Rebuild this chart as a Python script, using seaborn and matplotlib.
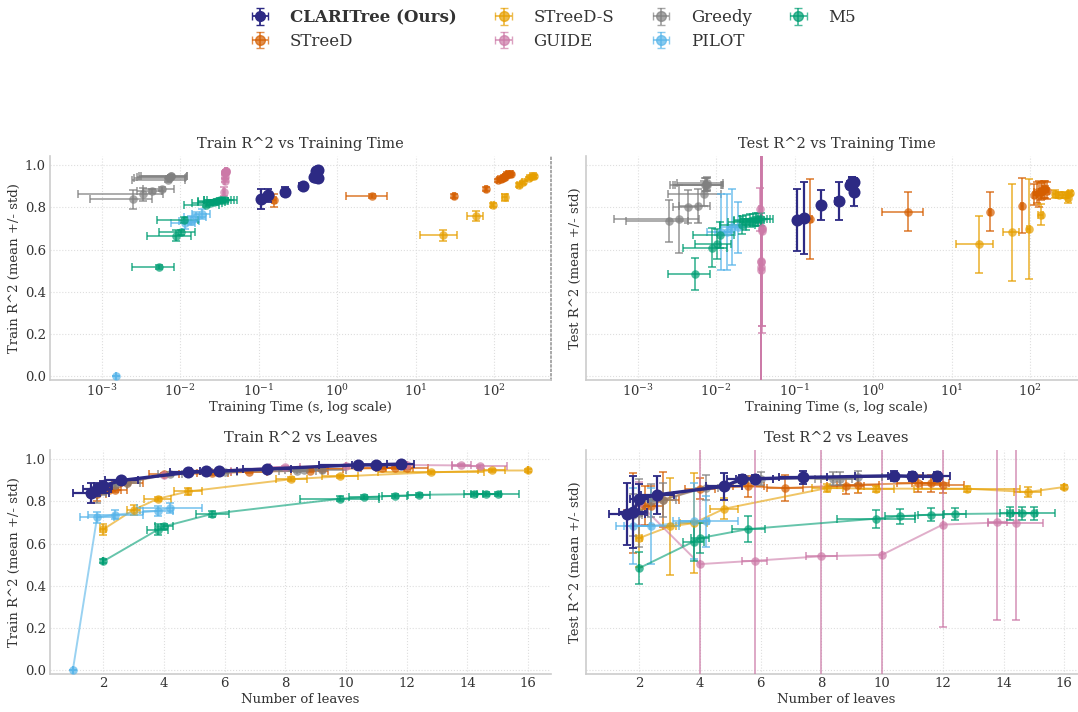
import numpy as np
import pandas as pd
import matplotlib
matplotlib.use("Agg")
import matplotlib.pyplot as plt
import seaborn as sns

# ---------------- data ----------------
methods = ["CLARITree (Ours)", "STreeD", "STreeD-S", "GUIDE", "Greedy", "PILOT", "M5"]
colors = ["#2d2a84", "#D55E00", "#E69F00", "#CC79A7", "#808080", "#56B4E9", "#009E73"]

clar_leaves = [1.6, 1.8, 2.0, 2.6, 4.8, 5.4, 5.8, 7.4, 10.4, 11.0, 11.8]
clar_leaves_sd = [0.6, 0.45, 0.3, 0.55, 0.6, 0.5, 0.6, 0.8, 1.3, 0.8, 0.45]
clar_train = [0.839, 0.857, 0.874, 0.899, 0.937, 0.942, 0.943, 0.953, 0.973, 0.973, 0.976]
clar_train_sd = [0.048, 0.032, 0.02, 0.012, 0.008, 0.008, 0.008, 0.006, 0.005, 0.005, 0.005]
clar_test = [0.740, 0.749, 0.812, 0.831, 0.871, 0.907, 0.907, 0.913, 0.921, 0.918, 0.918]
clar_test_sd = [0.146, 0.17, 0.07, 0.09, 0.063, 0.02, 0.02, 0.03, 0.024, 0.02, 0.02]
clar_time = [0.107, 0.129, 0.217, 0.36, 0.57, 0.50, 0.52, 0.53, 0.54, 0.55, 0.56]
clar_time_sd = [0.004, 0.006, 0.01, 0.04, 0.02, 0.02, 0.02, 0.02, 0.02, 0.02, 0.02]

streed_leaves = [1.8, 2.2, 2.4, 2.8, 4.0, 5.6, 6.8, 8.8, 9.2, 11.2, 11.6, 12.0]
streed_leaves_sd = [0.3, 0.4, 0.4, 0.5, 0.5, 0.5, 0.6, 0.6, 0.7, 0.7, 0.6, 0.7]
streed_train = [0.834, 0.853, 0.855, 0.888, 0.928, 0.932, 0.940, 0.945, 0.953, 0.957, 0.960, 0.957]
streed_train_sd = [0.03, 0.01, 0.01, 0.01, 0.008, 0.008, 0.006, 0.006, 0.006, 0.005, 0.005, 0.005]
streed_test = [0.744, 0.78, 0.78, 0.808, 0.86, 0.871, 0.863, 0.875, 0.879, 0.886, 0.885, 0.879]
streed_test_sd = [0.19, 0.094, 0.094, 0.13, 0.05, 0.05, 0.06, 0.04, 0.04, 0.04, 0.04, 0.04]
streed_time = [0.155, 2.77, 30.5, 78, 112, 120, 128, 135, 142, 150, 155, 162]
streed_time_sd = [0.01, 1.5, 1.0, 3.0, 5, 8, 8, 8, 8, 10, 10, 10]

streeds_leaves = [2.0, 3.0, 3.8, 4.8, 8.2, 9.8, 12.8, 14.8, 16.0]
streeds_leaves_sd = [0.1, 0.2, 0.45, 0.45, 0.5, 0.6, 1.75, 0.45, 0.0]
streeds_train = [0.667, 0.760, 0.812, 0.847, 0.905, 0.918, 0.937, 0.946, 0.946]
streeds_train_sd = [0.025, 0.025, 0.01, 0.015, 0.01, 0.008, 0.006, 0.006, 0.005]
streeds_test = [0.626, 0.681, 0.697, 0.765, 0.863, 0.860, 0.860, 0.844, 0.868]
streeds_test_sd = [0.135, 0.23, 0.235, 0.05, 0.02, 0.015, 0.015, 0.025, 0.01]
streeds_time = [22.2, 57.5, 95, 135, 204, 233, 275, 300, 320]
streeds_time_sd = [11, 13, 5, 10, 10, 10, 15, 15, 15]

guide_leaves = [2.0, 4.0, 5.8, 8.0, 10.0, 12.0, 13.8, 14.4]
guide_leaves_sd = [0.0, 0.0, 0.4, 0.5, 0.0, 0.0, 0.3, 0.9]
guide_train = [0.875, 0.926, 0.945, 0.962, 0.968, 0.972, 0.970, 0.965]
guide_train_sd = [0.02, 0.008, 0.006, 0.005, 0.005, 0.005, 0.005, 0.005]
guide_test = [0.79, 0.503, 0.519, 0.54, 0.547, 0.69, 0.70, 0.697]
guide_test_sd = [0.1, 1.6, 1.2, 1.4, 1.8, 0.485, 0.46, 0.46]
guide_time = [0.036, 0.0365, 0.037, 0.0372, 0.0375, 0.0378, 0.038, 0.0382]
guide_time_sd = [0.001, 0.001, 0.001, 0.001, 0.001, 0.001, 0.001, 0.001]

greedy_leaves = [1.8, 2.0, 2.4, 2.8, 4.2, 6.0, 8.4, 8.6, 9.2]
greedy_leaves_sd = [0.3, 0.3, 0.4, 0.4, 0.4, 0.4, 0.6, 0.6, 0.8]
greedy_train = [0.838, 0.861, 0.877, 0.888, 0.930, 0.940, 0.945, 0.948, 0.950]
greedy_train_sd = [0.045, 0.03, 0.01, 0.01, 0.008, 0.006, 0.005, 0.005, 0.005]
greedy_test = [0.736, 0.744, 0.804, 0.808, 0.865, 0.907, 0.907, 0.907, 0.913]
greedy_test_sd = [0.1, 0.16, 0.08, 0.08, 0.06, 0.03, 0.03, 0.03, 0.03]
greedy_time = [0.0025, 0.0033, 0.0043, 0.0058, 0.0069, 0.0071, 0.0073, 0.0075, 0.0077]
greedy_time_sd = [0.0018, 0.0028, 0.0015, 0.0025, 0.0045, 0.0045, 0.0045, 0.0045, 0.0045]

pilot_leaves = [1.0, 1.8, 2.4, 3.8, 4.2]
pilot_leaves_sd = [0.0, 0.55, 0.9, 0.5, 1.07]
pilot_train = [0.0, 0.724, 0.737, 0.755, 0.768]
pilot_train_sd = [0.0, 0.025, 0.02, 0.025, 0.025]
pilot_test = [np.nan, 0.684, 0.684, 0.705, 0.705]
pilot_test_sd = [np.nan, 0.18, 0.18, 0.18, 0.12]
pilot_time = [0.0015, 0.0115, 0.0135, 0.016, 0.019]
pilot_time_sd = [0.0, 0.004, 0.004, 0.005, 0.005]

m5_leaves = [2.0, 3.8, 4.0, 5.6, 9.8, 10.6, 11.6, 12.4, 14.2, 14.6, 15.0]
m5_leaves_sd = [0.0, 0.35, 0.3, 0.55, 1.3, 0.5, 0.4, 0.35, 0.3, 0.5, 0.7]
m5_train = [0.516, 0.666, 0.681, 0.741, 0.812, 0.820, 0.826, 0.831, 0.834, 0.834, 0.834]
m5_train_sd = [0.01, 0.025, 0.012, 0.015, 0.012, 0.01, 0.01, 0.01, 0.008, 0.008, 0.008]
m5_test = [0.484, 0.61, 0.626, 0.669, 0.718, 0.73, 0.737, 0.74, 0.743, 0.743, 0.743]
m5_test_sd = [0.074, 0.09, 0.07, 0.063, 0.043, 0.035, 0.03, 0.03, 0.03, 0.03, 0.03]
m5_time = [0.0053, 0.0088, 0.0103, 0.011, 0.021, 0.024, 0.027, 0.029, 0.032, 0.034, 0.037]
m5_time_sd = [0.0029, 0.005, 0.005, 0.006, 0.01, 0.01, 0.01, 0.012, 0.012, 0.014, 0.015]

time_ticks = [1e-3, 1e-2, 1e-1, 1e0, 1e1, 1e2]
leaf_ticks = [2, 4, 6, 8, 10, 12, 14, 16]
r2_ticks = [0.0, 0.2, 0.4, 0.6, 0.8, 1.0]

raw = {
    "CLARITree (Ours)": (clar_leaves, clar_leaves_sd, clar_train, clar_train_sd, clar_test, clar_test_sd, clar_time, clar_time_sd),
    "STreeD": (streed_leaves, streed_leaves_sd, streed_train, streed_train_sd, streed_test, streed_test_sd, streed_time, streed_time_sd),
    "STreeD-S": (streeds_leaves, streeds_leaves_sd, streeds_train, streeds_train_sd, streeds_test, streeds_test_sd, streeds_time, streeds_time_sd),
    "GUIDE": (guide_leaves, guide_leaves_sd, guide_train, guide_train_sd, guide_test, guide_test_sd, guide_time, guide_time_sd),
    "Greedy": (greedy_leaves, greedy_leaves_sd, greedy_train, greedy_train_sd, greedy_test, greedy_test_sd, greedy_time, greedy_time_sd),
    "PILOT": (pilot_leaves, pilot_leaves_sd, pilot_train, pilot_train_sd, pilot_test, pilot_test_sd, pilot_time, pilot_time_sd),
    "M5": (m5_leaves, m5_leaves_sd, m5_train, m5_train_sd, m5_test, m5_test_sd, m5_time, m5_time_sd),
}
cols = ["leaves", "leaves_sd", "train", "train_sd", "test", "test_sd", "time", "time_sd"]
frames = {m: pd.DataFrame(dict(zip(cols, v))) for m, v in raw.items()}

# ---------------- style ----------------
sns.set_theme(style="whitegrid", rc={"grid.linestyle": ":", "grid.color": "#dedede",
                                     "grid.linewidth": 0.8, "axes.edgecolor": "#cccccc",
                                     "axes.linewidth": 1.2,
                                     "xtick.major.size": 0, "ytick.major.size": 0,
                                     "xtick.minor.size": 0, "ytick.minor.size": 0})
plt.rcParams["font.family"] = ["DejaVu Serif", "DejaVu Sans"]
plt.rcParams["mathtext.fontset"] = "dejavuserif"
plt.rcParams["text.color"] = "#333333"
plt.rcParams["axes.labelcolor"] = "#333333"
plt.rcParams["xtick.color"] = "#333333"
plt.rcParams["ytick.color"] = "#333333"

W, H = 1078, 712
fig = plt.figure(figsize=(W / 100, H / 100), dpi=100)

def box(l, t, r, b):
    return [l / W, (H - b) / H, (r - l) / W, (b - t) / H]

ax_tl = fig.add_axes(box(50, 156, 551, 380))
ax_tr = fig.add_axes(box(586, 156, 1087, 380))
ax_bl = fig.add_axes(box(50, 450, 551, 674))
ax_br = fig.add_axes(box(586, 450, 1087, 674))

for a in (ax_tl, ax_tr):
    a.set_xscale("log")

panels = [
    (ax_tl, "time", "train", False),
    (ax_tr, "time", "test", False),
    (ax_bl, "leaves", "train", True),
    (ax_br, "leaves", "test", True),
]

draw_order = ["STreeD", "STreeD-S", "GUIDE", "Greedy", "PILOT", "M5", "CLARITree (Ours)"]
cmap = dict(zip(methods, colors))

for ax, xc, yc, lines in panels:
    for m in draw_order:
        df = frames[m]
        c = cmap[m]
        main = m.startswith("CLARI")
        z = 10 if main else 3
        al = 1.0 if main else 0.7
        ax.errorbar(df[xc], df[yc], xerr=df[xc + "_sd"], yerr=df[yc + "_sd"], fmt="none",
                    ecolor=c, elinewidth=1.6 if main else 1.3, capsize=3, capthick=1.3,
                    alpha=al, zorder=z)
        if lines:
            sns.lineplot(data=df, x=xc, y=yc, sort=False, estimator=None, color=c,
                         linewidth=2.4 if main else 1.4, alpha=1.0 if main else 0.6,
                         ax=ax, legend=False, zorder=z)
        sns.scatterplot(data=df, x=xc, y=yc, color=c, s=(75 if main else 38),
                        alpha=al, linewidth=0, ax=ax, legend=False, zorder=z + 1)

for ax in (ax_tl, ax_tr):
    ax.set_xlim(10 ** -3.66, 10 ** 2.72)
    ax.set_xticks(time_ticks)
    ax.minorticks_off()
for ax in (ax_bl, ax_br):
    ax.set_xlim(0.25, 16.75)
    ax.set_xticks(leaf_ticks)
for ax in (ax_tl, ax_tr, ax_bl, ax_br):
    ax.set_ylim(-0.017, 1.043)
    ax.set_yticks(r2_ticks)
    ax.tick_params(axis="x", labelsize=9.5, pad=2)
    ax.tick_params(axis="y", labelsize=9.5, pad=3)
    sns.despine(ax=ax)
for ax in (ax_tr, ax_br):
    ax.tick_params(labelleft=False)

ax_tl.spines["right"].set_visible(True)
ax_tl.spines["right"].set_linestyle(":")
ax_tl.spines["right"].set_color("#999999")

ax_tl.set_title("Train R^2 vs Training Time", fontsize=10.5)
ax_tr.set_title("Test R^2 vs Training Time", fontsize=10.5)
ax_bl.set_title("Train R^2 vs Leaves", fontsize=10.5)
ax_br.set_title("Test R^2 vs Leaves", fontsize=10.5)
for ax in (ax_tl, ax_tr):
    ax.set_xlabel("Training Time (s, log scale)", fontsize=9.5, labelpad=2)
for ax in (ax_bl, ax_br):
    ax.set_xlabel("Number of leaves", fontsize=9.5, labelpad=2)
ax_tl.set_ylabel("Train R^2 (mean +/- std)", fontsize=9.5, labelpad=3)
ax_bl.set_ylabel("Train R^2 (mean +/- std)", fontsize=9.5, labelpad=3)
ax_tr.set_ylabel("Test R^2 (mean +/- std)", fontsize=9.5, labelpad=3)
ax_br.set_ylabel("Test R^2 (mean +/- std)", fontsize=9.5, labelpad=3)

# legend proxies (errorbar-style handles)
hax = fig.add_axes([0.3, 0.8, 0.01, 0.01])
handles = []
for m, c in zip(methods, colors):
    h = hax.errorbar([0], [0], xerr=[1], yerr=[1], fmt="o", color=c, ecolor=c,
                     markersize=7, capsize=3, elinewidth=1.3,
                     alpha=1.0 if m.startswith("CLARI") else 0.7)
    handles.append(h)
hax.set_xticks([])
hax.set_yticks([])
hax.set_visible(False)
leg = fig.legend(handles, methods, loc="upper center", bbox_to_anchor=(0.51, 1.008),
                 ncol=4, frameon=False, fontsize=12, columnspacing=1.8,
                 handletextpad=0.8, labelspacing=0.4)
leg.get_texts()[0].set_fontweight("bold")

fig.savefig("out.png", dpi=100)
